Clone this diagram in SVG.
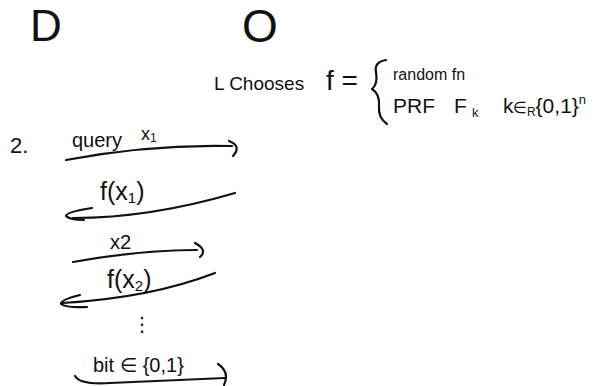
<svg xmlns="http://www.w3.org/2000/svg" width="615" height="386" viewBox="0 0 615 386">
<style>
text{font-family:"Liberation Sans","DejaVu Sans",sans-serif;fill:#111}
.ln{fill:none;stroke:#111;stroke-width:2.2;stroke-linecap:round;stroke-linejoin:round}
</style>
<rect width="615" height="386" fill="#fff"/>
<g id="nodeD"><text x="30" y="41" font-size="44">D</text></g>
<g id="nodeO"><text x="242" y="42" font-size="46">O</text></g>
<g id="chooses">
<text x="214" y="90" font-size="19">L Chooses</text>
<text x="326" y="90" font-size="28">f =</text>
<path class="ln" d="M386,60 Q374,62 376,72 Q378,84 372,89 Q380,94 379,106 Q378,118 387,124"/>
<text x="393" y="80" font-size="16">random fn</text>
<text font-size="21" y="113"><tspan x="393">PRF</tspan><tspan x="454">F</tspan><tspan x="472" font-size="13" dy="4">k</tspan><tspan x="503" dy="-4">k</tspan><tspan x="513" font-size="16">∈</tspan><tspan font-size="12" dy="3">R</tspan><tspan dy="-3">{0,1}</tspan><tspan font-size="13" dy="-9">n</tspan></text>
</g>
<g id="step2"><text x="10" y="153" font-size="22">2.</text></g>
<g id="labels">
<text x="72" y="147" font-size="20">query</text>
<text x="141" y="140" font-size="18">x<tspan font-size="12" dy="2">1</tspan></text>
<text x="100" y="200" font-size="25">f(x<tspan font-size="15" dy="3">1</tspan><tspan dy="-3">)</tspan></text>
<text x="110" y="249" font-size="20">x2</text>
<text x="107" y="288" font-size="25">f(x<tspan font-size="15" dy="3">2</tspan><tspan dy="-3">)</tspan></text>
<text x="132" y="331" font-size="20">⋮</text>
<text x="93" y="372" font-size="20">bit ∈ {0,1}</text>
</g>
<g id="connectors">
<path class="ln" d="M66,160 Q150,144 232,146"/>
<path class="ln" d="M229,141 Q242,146 233,156"/>
<path class="ln" d="M235,193 Q150,218 73,218"/>
<path class="ln" d="M92,208 Q66,212 66,216 Q70,220 84,220"/>
<path class="ln" d="M73,262 Q140,250 197,250"/>
<path class="ln" d="M195,243 Q208,250 200,257"/>
<path class="ln" d="M215,273 Q150,298 62,303"/>
<path class="ln" d="M80,295 Q60,300 61,304 Q66,308 87,307"/>
<path class="ln" d="M75,376 Q80,385 110,383 Q180,380 225,378"/>
<path class="ln" d="M218,364 Q230,372 224,385"/>
</g>
</svg>
